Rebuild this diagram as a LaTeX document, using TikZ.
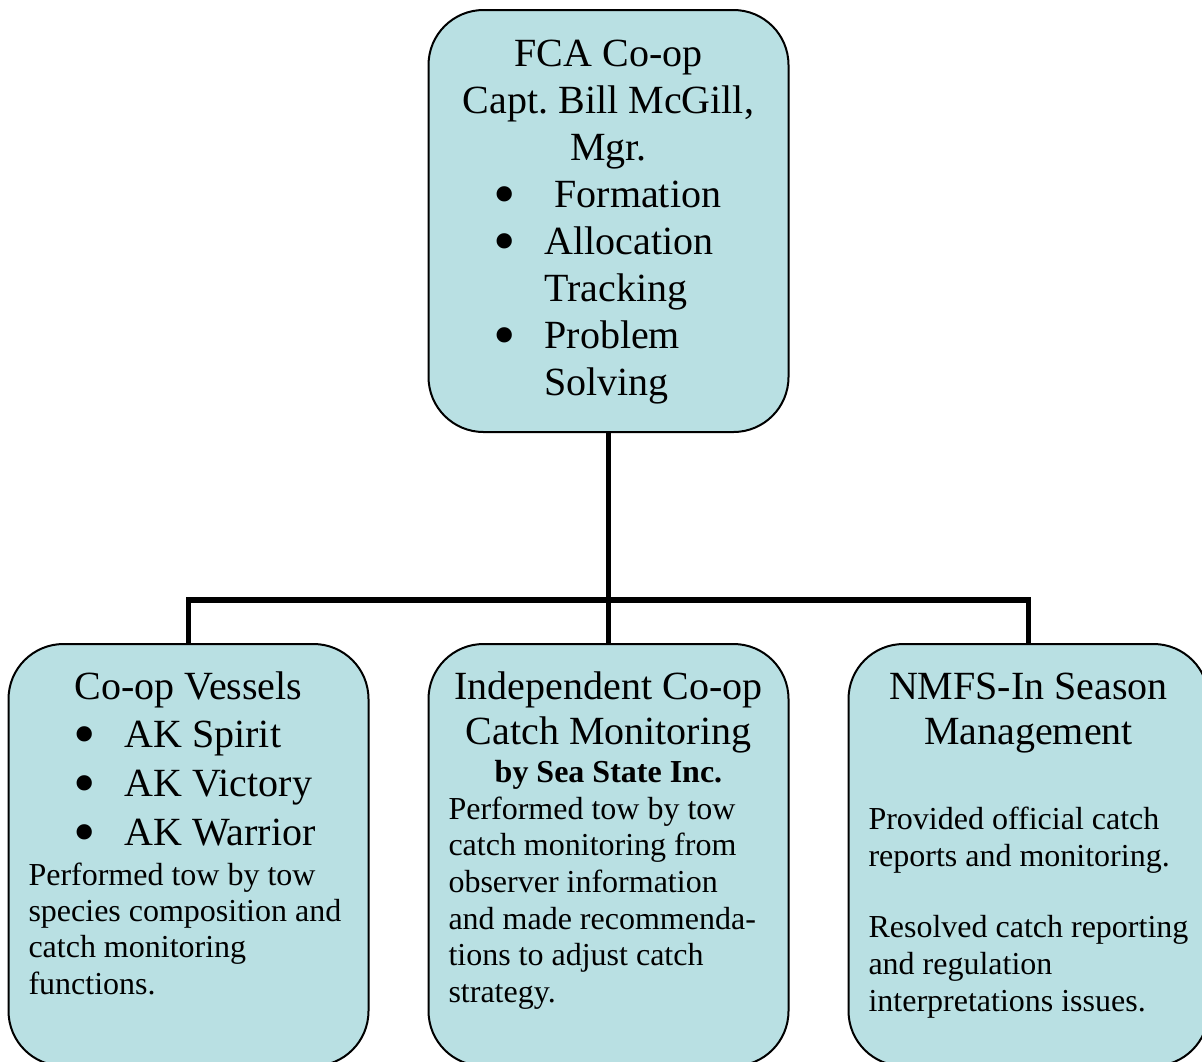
\documentclass[tikz,border=0pt]{standalone}
\usepackage{fontspec}
\setmainfont{Liberation Serif}
\usepackage{graphicx}
\usepackage{xcolor}
\usepackage{tikz}
\definecolor{boxfill}{HTML}{B9E0E3}
\tikzset{
  box/.style={draw=black, line width=1pt, fill=boxfill, rounded corners=27.5pt, inner sep=0pt, anchor=north},
  link/.style={draw=black, line width=2.6pt, line join=miter},
}
\frenchspacing
\newcommand{\bul}{\makebox[14pt][c]{\raisebox{-4pt}[0pt][0pt]{\scalebox{1.6}{\textbullet}}}}
\newcommand{\itm}[1]{\par\hspace*{31.25pt}\bul\hspace*{12.75pt}#1}
\newcommand{\itmcont}[1]{\par\hspace*{58pt}#1}
\newcommand{\boxtext}[2]{\begin{minipage}[t][211pt][t]{180pt}\vspace*{#1}#2\end{minipage}}

\begin{document}
\begin{tikzpicture}[x=0.5pt, y=-0.5pt] % 1 unit = 1 px of the page
  \useasboundingbox (0,0) rectangle (1202,1061);
  \node[box] (fca) at (608.5,9) {\boxtext{11.55pt}{%
    \fontsize{20}{23.5}\selectfont\centering
    \strut FCA Co-op\\Capt. Bill McGill,\\Mgr.\par
    \raggedright
    \itm{\hspace*{5pt}Formation}
    \itm{Allocation}
    \itmcont{Tracking}
    \itm{Problem}
    \itmcont{Solving}\par}};
  \node[box] (vessels) at (188.5,643) {\boxtext{10.64pt}{%
    \fontsize{20}{24.3}\selectfont\centering
    \strut Co-op Vessels\par
    \raggedright
    \itm{AK Spirit}
    \itm{AK Victory}
    \itm{AK Warrior}\par
    \vspace{1.8pt}
    \fontsize{16}{18.2}\selectfont\leftskip=10pt
    Performed tow by tow\\species composition and\\catch monitoring\\functions.\par}};
  \node[box] (monitor) at (608.5,643) {\boxtext{11.9pt}{%
    \fontsize{20}{22.5}\selectfont\centering
    \strut Independent Co-op\\Catch Monitoring\par
    \fontsize{16}{18.3}\selectfont\bfseries
    \vspace{0.9pt}
    by Sea State Inc.\par
    \raggedright\mdseries\leftskip=10pt
    Performed tow by tow\\catch monitoring from\\observer information\\and made recommenda-\\tions to adjust catch\\strategy.\par}};
  \node[box] (nmfs) at (1028.5,643) {\boxtext{11.9pt}{%
    \fontsize{20}{22.5}\selectfont\centering
    \strut NMFS-In Season\\Management\par
    \fontsize{16}{18.35}\selectfont
    \raggedright\leftskip=10pt
    \vspace{24.15pt}
    Provided official catch\\reports and monitoring.\par
    \vspace{17.5pt}
    Resolved catch reporting\\and regulation\\interpretations issues.\par}};
  % tree connectors
  \draw[link] (fca.south) -- (monitor.north);
  \draw[link] (vessels.north) -- ++(0,-43) -| (nmfs.north);
\end{tikzpicture}
\end{document}
